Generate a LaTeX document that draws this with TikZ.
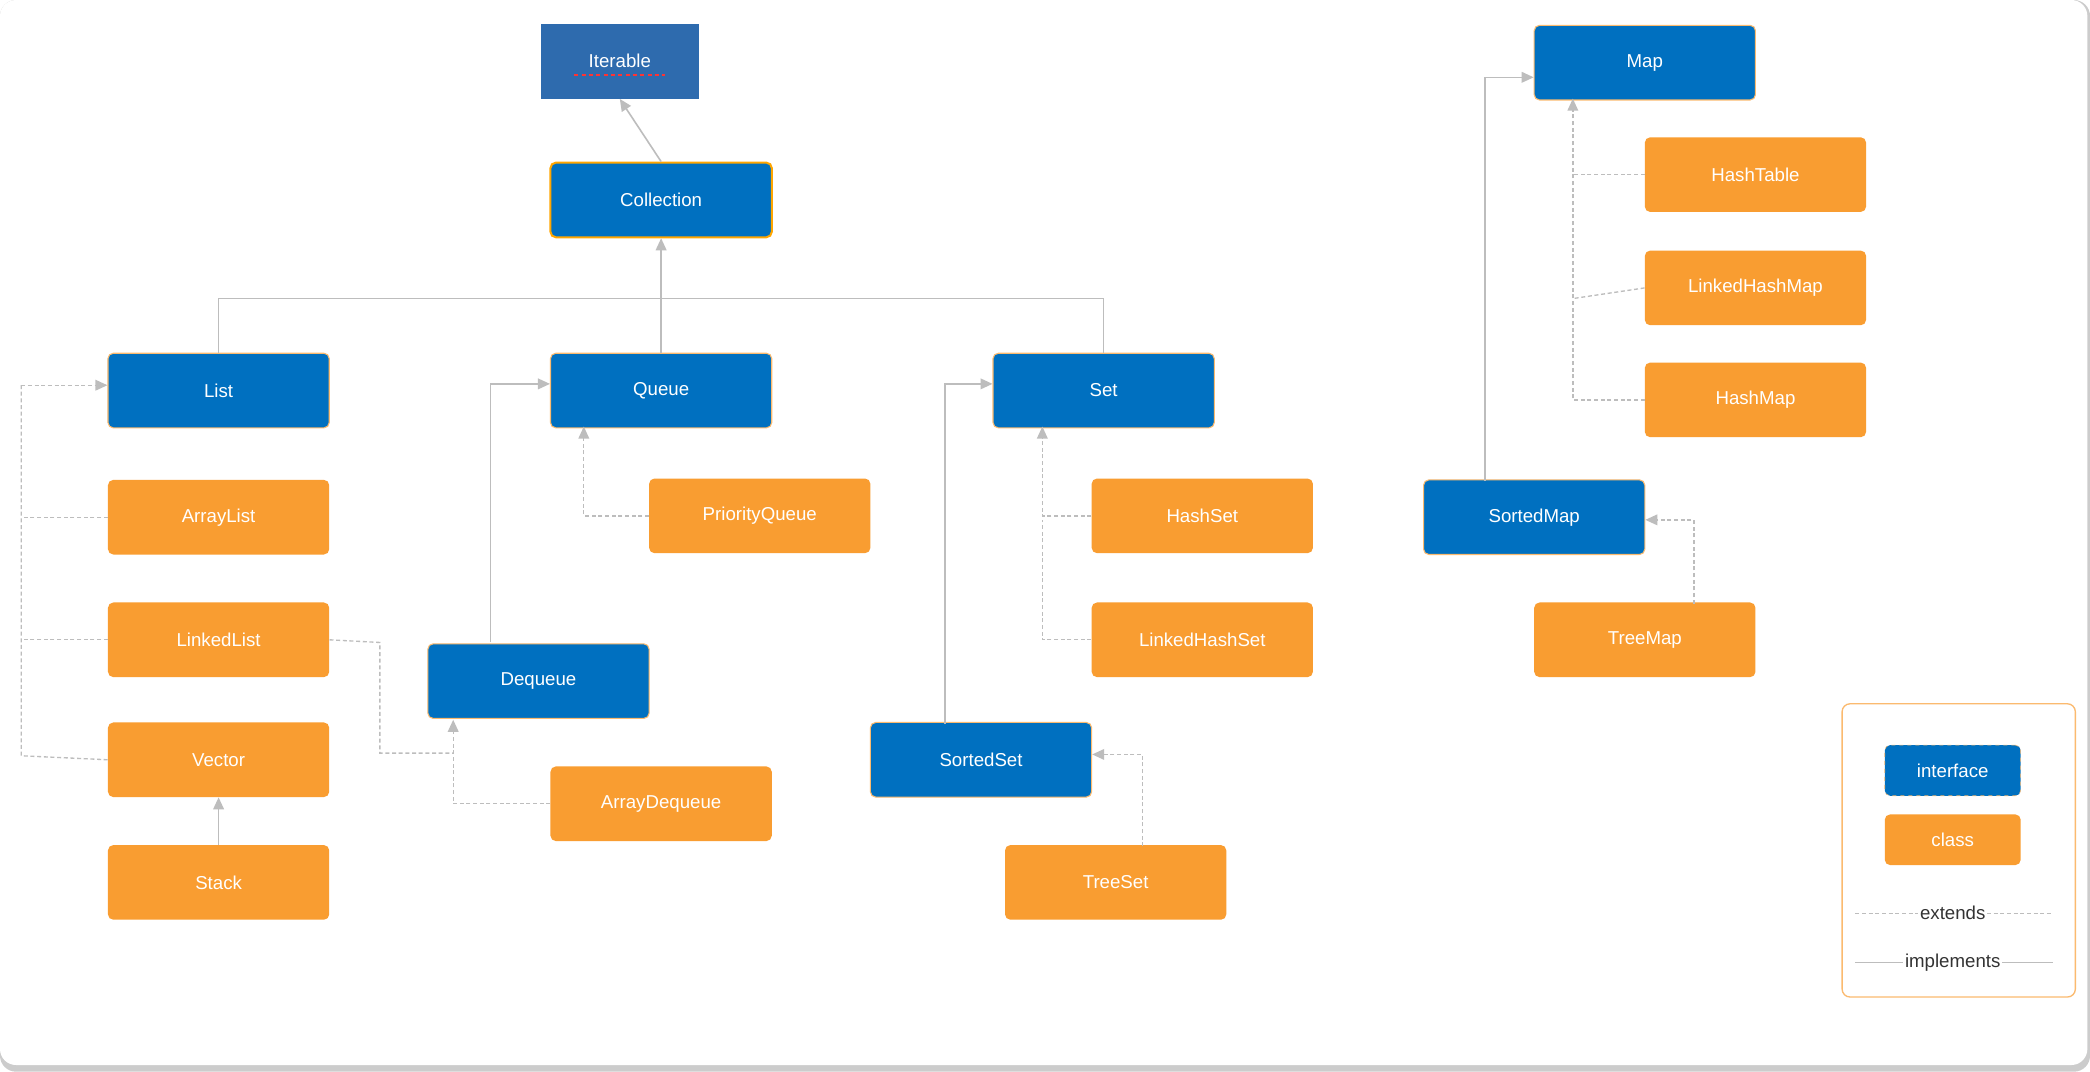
\documentclass[tikz,border=0pt]{standalone}
\usepackage{fontspec}
\setmainfont{Liberation Sans}
\usetikzlibrary{arrows.meta,calc}
\definecolor{iblue}{HTML}{0070C0}
\definecolor{iterb}{HTML}{2E6BAE}
\definecolor{corg}{HTML}{F99D31}
\definecolor{lgray}{HTML}{BDBDBD}
\begin{document}
\begin{tikzpicture}[x=1pt,y=-1pt,
  box/.style={minimum width=166pt,minimum height=56pt,rounded corners=4pt,text=white,font=\fontsize{14}{16}\selectfont},
  intf/.style={box,fill=iblue,draw=corg!70,line width=0.8pt},
  cls/.style={box,fill=corg},
  impl/.style={draw=lgray,line width=1.2pt,-{Triangle[length=9pt,width=8pt]}},
  ext/.style={draw=lgray,line width=1pt,dash pattern=on 3pt off 2pt,-{Triangle[length=9pt,width=8pt]}},
  plain/.style={draw=lgray,line width=1.2pt},
  plaind/.style={draw=lgray,line width=1pt,dash pattern=on 3pt off 2pt}]
\useasboundingbox (0,0) rectangle (1568,804);
\fill[gray!40,rounded corners=12pt] (0,0) rectangle (1568,804);
\fill[white,rounded corners=12pt] (0,0) rectangle (1566,799);
% nodes
\node[box,fill=iterb,rounded corners=0pt,minimum width=119pt] (iter) at (465,46) {Iterable};
\draw[red!80,line width=1.6pt,dash pattern=on 3pt off 2.5pt] ($(iter)+(-34,10)$) -- ($(iter)+(34,10)$);
\node[intf,draw=orange!70!yellow,line width=1.5pt] (coll) at (496,150) {Collection};
\node[intf] (list) at (164,293) {List};
\node[intf] (queue) at (496,293) {Queue};
\node[intf] (set) at (828,293) {Set};
\node[cls] (alist) at (164,388) {ArrayList};
\node[cls] (llist) at (164,480) {LinkedList};
\node[cls] (vector) at (164,570) {Vector};
\node[cls] (stack) at (164,662) {Stack};
\node[cls] (pq) at (570,387) {PriorityQueue};
\node[intf] (deq) at (404,511) {Dequeue};
\node[cls] (adq) at (496,603) {ArrayDequeue};
\node[cls] (hset) at (902,387) {HashSet};
\node[cls] (lhset) at (902,480) {LinkedHashSet};
\node[intf] (sset) at (736,570) {SortedSet};
\node[cls] (tset) at (837,662) {TreeSet};
\node[intf] (map) at (1234,47) {Map};
\node[cls] (htab) at (1317,131) {HashTable};
\node[cls] (lhmap) at (1317,216) {LinkedHashMap};
\node[cls] (hmap) at (1317,300) {HashMap};
\node[intf] (smap) at (1151,388) {SortedMap};
\node[cls] (tmap) at (1234,480) {TreeMap};
% connectors
\draw[impl] (coll.north) -- (iter.south);
\draw[impl] (queue.north) -- (coll.south);
\draw[plain] (list.north) |- (496,224) -| (set.north);
\coordinate (lj) at (16,289);
\draw[plaind] (alist.west) -- (16,388);
\draw[plaind] (llist.west) -- (16,480);
\draw[plaind] (vector.west) -- (16,567) -- (lj);
\draw[ext] (lj) -- (list.west |- lj);
\draw[impl] (stack.north) -- (vector.south);
\draw[plaind] (llist.east) -- (285,482) -- (285,565) -- (340,565);
\draw[ext] (adq.west) -| (340,540);
\draw[impl] (368,482) |- (queue.west |- 0,288);
\draw[ext] (pq.west) -| (438,320);
\draw[ext] (hset.west) -| (782,320);
\draw[plaind] (lhset.west) -| (782,390);
\draw[impl] (709,543) |- (set.west |- 0,288);
\draw[ext] (857,635) |- (sset.east |- 0,566);
\draw[plaind] (htab.west) -- (1180,131);
\draw[plaind] (lhmap.west) -- (1180,224);
\draw[ext] (hmap.west) -| (1180,74);
\draw[impl] (1114,361) |- (map.west |- 0,58);
\draw[ext] (1271,453) |- (smap.east |- 0,390);
% legend
\draw[corg!70,line width=1pt,rounded corners=6pt] (1382,528) rectangle (1557,748);
\node[box,fill=iblue,draw=corg!70,dashed,minimum width=102pt,minimum height=38pt] (li) at (1465,578) {interface};
\node[box,fill=corg,minimum width=102pt,minimum height=38pt] (lc) at (1465,630) {class};
\node[text=black!80,font=\fontsize{14}{16}\selectfont,inner sep=1pt] (le) at (1465,685) {extends};
\node[text=black!80,font=\fontsize{14}{16}\selectfont,inner sep=1pt] (lim) at (1465,722) {implements};
\draw[plaind,line width=0.7pt] (1392,685) -- (le.west); \draw[plaind,line width=0.7pt] (le.east) -- (1540,685);
\draw[plain,line width=0.8pt] (1392,722) -- (lim.west); \draw[plain,line width=0.8pt] (lim.east) -- (1540,722);
\end{tikzpicture}
\end{document}
